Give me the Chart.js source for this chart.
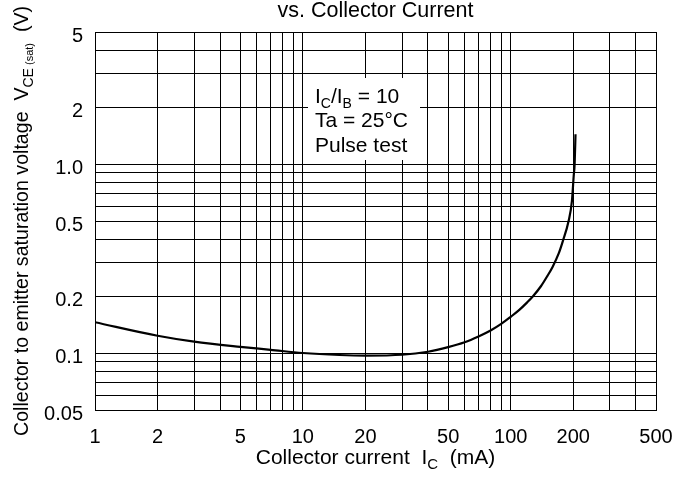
<!DOCTYPE html>
<html>
<head>
<meta charset="utf-8">
<script src="https://cdn.jsdelivr.net/npm/chart.js@4"></script>
<style>
  body { margin: 0; background: #fff; }
</style>
</head>
<body>
<canvas id="vceChart" width="678" height="484"></canvas>
<script>
// curve (IC in mA, VCE(sat) in V)
const currentMA = [1, 2, 3, 5, 7, 10, 15, 20, 30, 40, 50, 60, 70, 80, 90, 100, 110, 120, 128, 140, 150, 159, 170, 178, 190, 197, 201, 203, 205];
const vceSat = [0.1457, 0.1236, 0.1150, 0.1079, 0.1041, 0.1001, 0.0977, 0.0970, 0.0980, 0.1017, 0.1075, 0.1141, 0.1225, 0.1317, 0.1427, 0.1556, 0.1693, 0.1855, 0.1999, 0.2265, 0.2555, 0.2857, 0.3356, 0.3903, 0.501, 0.638, 0.870, 1.0, 1.44];

// grid lines and tick labels
const xGrid = [1, 2, 3, 4, 5, 6, 7, 8, 9, 10, 20, 30, 40, 50, 60, 70, 80, 90, 100, 200, 300, 400, 500];
const xLabelValues = [1, 2, 5, 10, 20, 50, 100, 200, 500];
const yGrid = [0.05, 0.06, 0.07, 0.08, 0.09, 0.1, 0.2, 0.3, 0.4, 0.5, 0.6, 0.7, 0.8, 0.9, 1, 2, 3, 4, 5];
const yLabelValues = [0.05, 0.1, 0.2, 0.5, 1, 2, 5];
const yLabelText = ['0.05', '0.1', '0.2', '0.5', '1.0', '2', '5'];

const FONT = '"Liberation Sans", Arial, Helvetica, sans-serif';

// draws a row of text pieces, some of them as subscripts
function drawPieces(ctx, x, y, pieces) {
    pieces.forEach(p => {
        ctx.font = p.size + 'px ' + FONT;
        ctx.fillText(p.text, x, y + (p.dy || 0));
        x += ctx.measureText(p.text).width;
    });
    return x;
}

function piecesWidth(ctx, pieces) {
    let w = 0;
    pieces.forEach(p => {
        ctx.font = p.size + 'px ' + FONT;
        w += ctx.measureText(p.text).width;
    });
    return w;
}

const decor = {
    id: 'decor',
    afterDraw(chart) {
        const ctx = chart.ctx;
        const area = chart.chartArea;
        ctx.save();
        ctx.fillStyle = '#000';
        ctx.textBaseline = 'alphabetic';
        ctx.textAlign = 'left';

        // title (first line is cut off in the reference)
        ctx.font = '21.5px ' + FONT;
        ctx.textAlign = 'center';
        ctx.fillText('vs. Collector Current', (area.left + area.right) / 2, 17);
        ctx.textAlign = 'left';

        // x axis title
        const xt = [
            { text: 'Collector current  I', size: 21 },
            { text: 'C', size: 15, dy: 5 },
            { text: '  (mA)', size: 21 }
        ];
        const xw = piecesWidth(ctx, xt);
        drawPieces(ctx, (area.left + area.right) / 2 - xw / 2, 464, xt);

        // y axis title, rotated
        const yt = [
            { text: 'Collector to emitter saturation voltage  V', size: 19.6 },
            { text: 'CE', size: 14, dy: 5 },
            { text: ' (sat)', size: 11, dy: 5 },
            { text: '  (V)', size: 19.6 }
        ];
        ctx.save();
        ctx.translate(28, 436);
        ctx.rotate(-Math.PI / 2);
        drawPieces(ctx, 0, 0, yt);
        ctx.restore();

        // condition box
        ctx.fillStyle = '#fff';
        ctx.fillRect(308, 78, 112, 82);
        ctx.fillStyle = '#000';
        drawPieces(ctx, 315, 103, [
            { text: 'I', size: 21 },
            { text: 'C', size: 14, dy: 5 },
            { text: '/I', size: 21 },
            { text: 'B', size: 14, dy: 5 },
            { text: ' = 10', size: 21 }
        ]);
        ctx.font = '21px ' + FONT;
        ctx.fillText('Ta = 25°C', 315, 127);
        ctx.fillText('Pulse test', 315, 152);
        ctx.restore();
    }
};

const ctx = document.getElementById('vceChart').getContext('2d');
new Chart(ctx, {
    type: 'scatter',
    data: {
        datasets: [{
            data: currentMA.map((x, i) => ({ x: x, y: vceSat[i] })),
            showLine: true,
            borderColor: '#000',
            borderWidth: 2.2,
            pointRadius: 0,
            cubicInterpolationMode: 'monotone',
            fill: false
        }]
    },
    options: {
        responsive: false,
        animation: false,
        layout: { padding: { top: 32, right: 22, bottom: 0, left: 0 } },
        plugins: {
            legend: { display: false },
            tooltip: { enabled: false },
            title: { display: false }
        },
        scales: {
            x: {
                type: 'logarithmic',
                min: 1,
                max: 500,
                afterBuildTicks(scale) { scale.ticks = xGrid.map(v => ({ value: v })); },
                afterFit(scale) {
                    scale.height = 74;
                    scale.paddingLeft = 0;
                    scale.paddingRight = 0;
                },
                grid: { color: '#000', lineWidth: 1, drawTicks: false },
                border: { color: '#000', width: 1 },
                ticks: {
                    autoSkip: false,
                    maxRotation: 0,
                    padding: 15,
                    color: '#000',
                    font: { family: FONT, size: 20 },
                    callback: v => xLabelValues.includes(v) ? String(v) : ''
                }
            },
            y: {
                type: 'logarithmic',
                min: 0.05,
                max: 5,
                afterBuildTicks(scale) { scale.ticks = yGrid.map(v => ({ value: v })); },
                afterFit(scale) {
                    scale.width = 95;
                    scale.paddingTop = 0;
                    scale.paddingBottom = 0;
                },
                grid: { color: '#000', lineWidth: 1, drawTicks: false },
                border: { color: '#000', width: 1 },
                ticks: {
                    autoSkip: false,
                    padding: 12,
                    labelOffset: 4,
                    color: '#000',
                    font: { family: FONT, size: 20 },
                    callback: v => {
                        const i = yLabelValues.indexOf(v);
                        return i < 0 ? '' : yLabelText[i];
                    }
                }
            }
        }
    },
    plugins: [decor]
});
</script>
</body>
</html>
